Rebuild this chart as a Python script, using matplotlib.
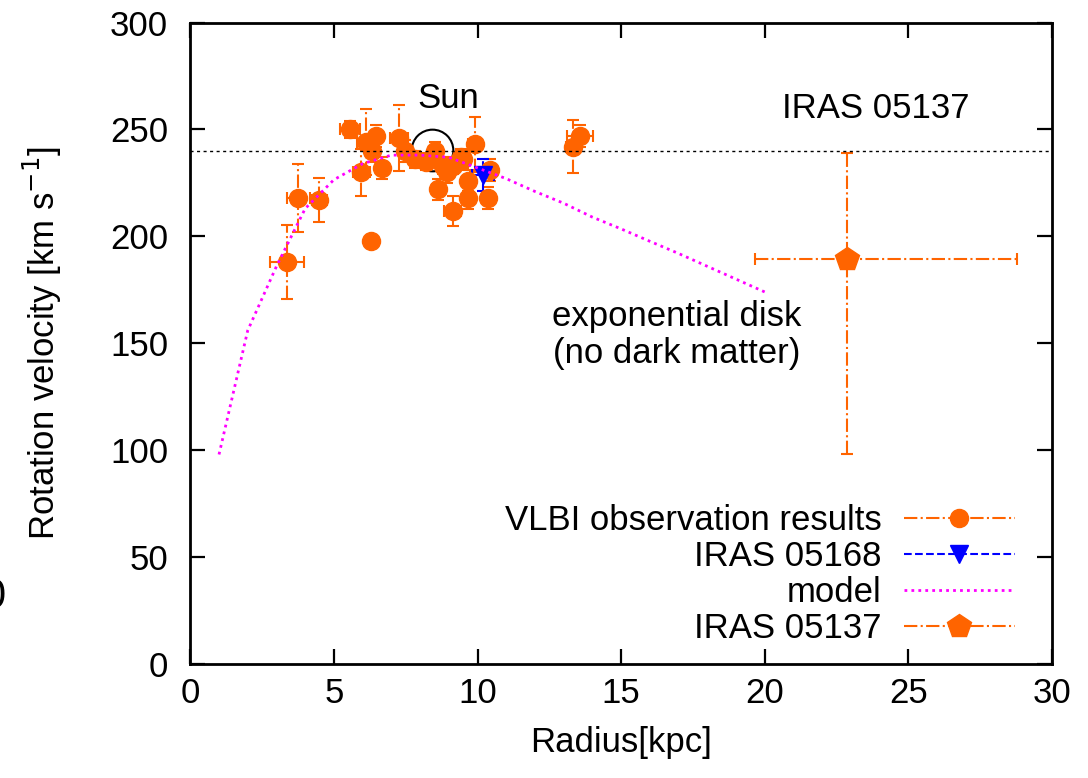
import matplotlib.pyplot as plt
from matplotlib.lines import Line2D

plt.rcParams['font.family'] = ['Liberation Sans', 'DejaVu Sans']
FS = 25

# VLBI observation results (radius kpc, velocity km/s, errors)
vlbi_r = [3.36, 3.76, 4.49, 6.29, 5.56, 6.11, 6.48, 6.31, 5.96, 6.66, 7.27, 7.47,
          7.82, 8.22, 8.51, 8.80, 9.15, 9.50, 8.63, 8.92, 9.13, 9.68, 9.68, 9.91,
          9.44, 10.37, 10.43, 13.32, 13.56]
vlbi_v = [188, 218, 217, 198, 250, 244, 247, 240, 230, 232, 246, 240,
          236, 235, 240, 233, 233, 236, 222, 230, 212, 218, 226, 243,
          237, 218, 231, 242, 247]
vlbi_r_err = [0.6, 0.4, 0.26, 0.1, 0.35, 0.3, 0.2, 0.2, 0.3, 0.2, 0.3, 0.2,
              0.2, 0.2, 0.2, 0.2, 0.2, 0.2, 0.2, 0.2, 0.3, 0.2, 0.2, 0.25,
              0.2, 0.2, 0.2, 0.25, 0.45]
vlbi_v_err = [17.5, 16, 10.5, 2, 4, 15.5, 5, 5, 11, 5, 15.5, 5,
              4, 4, 4, 4, 4, 4, 5, 5, 7, 5, 5, 13,
              4, 5, 5, 12.5, 5]

# IRAS 05168
i05168_r = [10.19]
i05168_v = [228.7]
i05168_r_err = [0.37]
i05168_v_err = [7.3]

# IRAS 05137 (asymmetric errors)
i05137_r = [22.86]
i05137_v = [189.3]
i05137_r_lo, i05137_r_hi = [3.2], [5.93]
i05137_v_lo, i05137_v_hi = [91], [49.6]

# exponential disk model
model_r = [1, 2, 3, 4, 5, 6, 7, 8, 9, 10, 11, 12, 13, 14, 15, 16, 17, 18, 19, 20]
model_v = [98, 156, 186, 213, 226.5, 234, 238, 238, 237, 232, 227, 221, 215.5,
           209, 203.5, 197.7, 192, 186, 180, 174]

sun_r, sun_v = 8.42, 240.3
orange = '#ff6400'

fig = plt.figure(figsize=(10.88, 7.78), dpi=100)
ax = fig.add_axes([0.1749, 0.1465, 0.7920, 0.8245])

ax.axhline(240, color='black', lw=1.0, ls=(0, (2.2, 2.5)), zorder=4)

ax.plot(sun_r, sun_v, marker='o', ms=30, mfc='none', mec='black', mew=1.5,
        ls='none', zorder=2)
ax.text(sun_r + 0.55, 264.5, 'Sun', fontsize=FS, ha='center', va='center')

eb = ax.errorbar(vlbi_r, vlbi_v, xerr=vlbi_r_err, yerr=vlbi_v_err, fmt='o',
                 color=orange, ms=13, mec=orange, elinewidth=1.5,
                 capsize=4, capthick=1.5, zorder=3)
eb[2][0].set_linestyle('-.')
eb[2][1].set_linestyle('-.')

eb2 = ax.errorbar(i05168_r, i05168_v, xerr=i05168_r_err, yerr=i05168_v_err,
                  fmt='v', color='blue', ms=13, elinewidth=1.5, capsize=4,
                  capthick=1.5, zorder=3)
eb2[2][0].set_linestyle('--')
eb2[2][1].set_linestyle('--')

ax.plot(model_r, model_v, color='#ff00ff', lw=2, ls=(0, (1.0, 1.5)), zorder=5)

eb3 = ax.errorbar(i05137_r, i05137_v, xerr=[i05137_r_lo, i05137_r_hi],
                  yerr=[i05137_v_lo, i05137_v_hi], fmt='p', color=orange,
                  ms=18, elinewidth=1.5, capsize=4, capthick=1.5, zorder=3)
eb3[2][0].set_linestyle('-.')
eb3[2][1].set_linestyle('-.')

ax.text(20.6, 260, 'IRAS 05137', fontsize=FS, ha='left', va='center')
ax.text(16.92, 154, 'exponential disk\n(no dark matter)', fontsize=FS,
        ha='center', va='center', linespacing=1.15)

ax.set_xlim(0, 30)
ax.set_ylim(0, 300)
ax.set_xticks(range(0, 31, 5))
ax.set_yticks(range(0, 301, 50))
ax.tick_params(direction='in', length=11, width=1.6, top=True, right=True,
               labelsize=FS)
ax.tick_params(axis='x', pad=9)
ax.tick_params(axis='y', pad=16)
for s in ax.spines.values():
    s.set_linewidth(2)

ax.set_xlabel('Radius[kpc]', fontsize=FS, labelpad=12)
ax.set_ylabel('Rotation velocity [km s$^{-1}$]', fontsize=FS, labelpad=33)

handles = [
    Line2D([], [], color=orange, ls='-.', lw=1.5, marker='o', ms=13),
    Line2D([], [], color='blue', ls='--', lw=1.5, marker='v', ms=13),
    Line2D([], [], color='#ff00ff', ls=(0, (1.0, 1.5)), lw=2),
    Line2D([], [], color=orange, ls='-.', lw=1.5, marker='p', ms=18),
]
labels = ['VLBI observation results', 'IRAS 05168', 'model', 'IRAS 05137']
ax.legend(handles, labels, loc='lower right', bbox_to_anchor=(0.957, 0.03),
          frameon=False, markerfirst=False, fontsize=FS, handlelength=3.2,
          handletextpad=0.65, labelspacing=0.08, borderpad=0, borderaxespad=0)

fig.text(5 / 1088, 1 - 597 / 778, '0', fontsize=30, ha='right', va='center')

fig.savefig('out.png', dpi=100)
